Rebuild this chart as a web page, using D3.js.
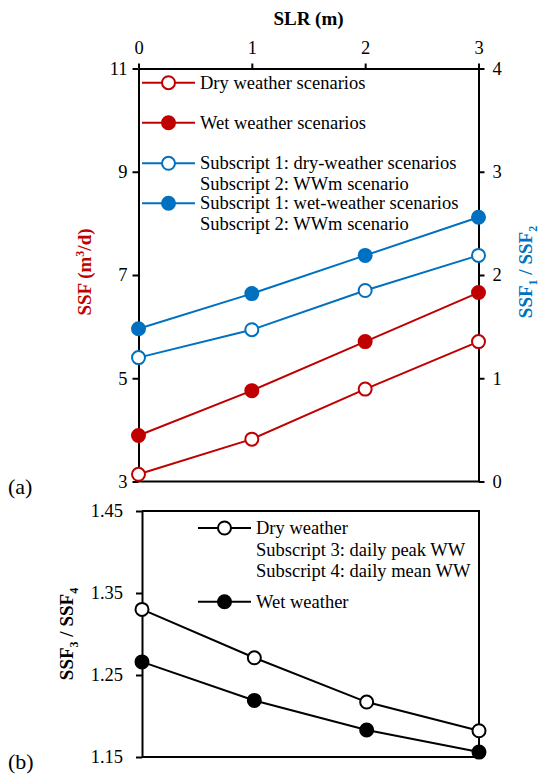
<!DOCTYPE html>
<html lang="en">
  <head>
    <meta charset="utf-8">
    <title>SSF vs SLR</title>
    <script type="text/javascript" src="https://cdn.jsdelivr.net/npm/d3@7"></script>
    <style type="text/css">
      body {
        margin: 0;
        background: #ffffff;
      }
      svg, svg text, svg tspan {
        font-family: 'Liberation Serif', 'DejaVu Serif', 'Times New Roman', Times, serif;
      }
      svg text {
        font-size: 18.5px;
        fill: #000000;
      }
      .title {
        font-weight: bold;
        font-size: 19px;
      }
      .frame {
        fill: none;
        stroke: #000000;
        stroke-width: 2;
      }
      .axis path, .axis line {
        stroke: #000000;
        stroke-width: 2;
      }
    </style>
  </head>
  <body>
    <svg id="chart" width="541" height="776"></svg>
    <script type="text/javascript">

    // data
    const slr = [0, 1, 2, 3];

    // panel (a), left axis (m3/d)
    const dryRed = [3.14, 3.82, 4.79, 5.71];
    const wetRed = [3.89, 4.76, 5.71, 6.66];
    // panel (a), right axis (ratio)
    const dryBlue = [1.20, 1.47, 1.85, 2.19];
    const wetBlue = [1.48, 1.82, 2.19, 2.56];

    // panel (b)
    const dryBlack = [1.330, 1.271, 1.217, 1.182];
    const wetBlack = [1.266, 1.219, 1.183, 1.156];

    const leftTicksA = [3, 5, 7, 9, 11];
    const rightTicksA = [0, 1, 2, 3, 4];
    const leftTicksB = [1.15, 1.25, 1.35, 1.45];

    const red = '#C00000';
    const blue = '#0070C0';
    const serif = "'Liberation Serif', 'DejaVu Serif', 'Times New Roman', Times, serif";

    const svg = d3.select('#chart');

    // layout
    const a = {left: 138.5, right: 478.5, top: 68.5, bottom: 481.5};
    const b = {left: 142, right: 479, top: 511, bottom: 757};

    const xA = d3.scaleLinear().domain([0, 3]).range([a.left, a.right]);
    const yL = d3.scaleLinear().domain([3, 11]).range([a.bottom, a.top]);
    const yR = d3.scaleLinear().domain([0, 4]).range([a.bottom, a.top]);

    const xB = d3.scaleLinear().domain([0, 3]).range([b.left, b.right]);
    const yB = d3.scaleLinear().domain([1.15, 1.45]).range([b.bottom, b.top]);

    // ---------- panel (a) ----------
    svg.append('line').attr('class', 'frame')
      .attr('x1', a.left).attr('x2', a.right)
      .attr('y1', a.bottom).attr('y2', a.bottom);

    svg.append('g')
      .attr('class', 'axis')
      .attr('transform', 'translate(0,' + a.top + ')')
      .call(d3.axisTop(xA).tickValues(slr).tickSize(5).tickSizeOuter(0).tickPadding(10).tickFormat(d3.format('d')));

    svg.append('g')
      .attr('class', 'axis')
      .attr('transform', 'translate(' + a.left + ',0)')
      .call(d3.axisLeft(yL).tickValues(leftTicksA).tickSize(6).tickSizeOuter(0).tickPadding(5).tickFormat(d3.format('d')));

    svg.append('g')
      .attr('class', 'axis')
      .attr('transform', 'translate(' + a.right + ',0)')
      .call(d3.axisRight(yR).tickValues(rightTicksA).tickSize(6).tickSizeOuter(0).tickPadding(8).tickFormat(d3.format('d')));

    svg.append('text')
      .attr('class', 'title')
      .attr('x', (a.left + a.right) / 2)
      .attr('y', 25)
      .attr('text-anchor', 'middle')
      .text('SLR (m)');

    // left title, rotated
    const lt = svg.append('text')
      .attr('class', 'title')
      .attr('transform', 'translate(91,272) rotate(-90)')
      .attr('text-anchor', 'middle')
      .style('fill', red);
    lt.append('tspan').text('SSF (m');
    lt.append('tspan').attr('dy', -7).style('font-size', '12px').text('3');
    lt.append('tspan').attr('dy', 7).text('/d)');

    // right title, rotated
    const rt = svg.append('text')
      .attr('class', 'title')
      .attr('transform', 'translate(532,272) rotate(-90)')
      .attr('text-anchor', 'middle')
      .style('fill', blue);
    rt.append('tspan').text('SSF');
    rt.append('tspan').attr('dy', 5).style('font-size', '12px').text('1');
    rt.append('tspan').attr('dy', -5).text(' / SSF');
    rt.append('tspan').attr('dy', 5).style('font-size', '12px').text('2');

    const seriesA = [
      {vals: dryRed, y: yL, color: red, open: true},
      {vals: wetRed, y: yL, color: red, open: false},
      {vals: dryBlue, y: yR, color: blue, open: true},
      {vals: wetBlue, y: yR, color: blue, open: false}
    ];

    function drawSeries(s, x) {
      const line = d3.line().x((d, i) => x(slr[i])).y(d => s.y(d));
      svg.append('path')
        .attr('d', line(s.vals))
        .attr('fill', 'none')
        .attr('stroke', s.color)
        .attr('stroke-width', 2);
      svg.append('g')
        .selectAll('circle')
        .data(s.vals)
        .enter()
        .append('circle')
        .attr('cx', (d, i) => x(slr[i]))
        .attr('cy', d => s.y(d))
        .attr('r', 6.5)
        .attr('fill', s.open ? '#ffffff' : s.color)
        .attr('stroke', s.color)
        .attr('stroke-width', 2);
    }

    seriesA.forEach(s => drawSeries(s, xA));

    // legend (a)
    const legA = [
      {color: red, open: true, y: 82.7, lines: ['Dry weather scenarios']},
      {color: red, open: false, y: 122.7, lines: ['Wet weather scenarios']},
      {color: blue, open: true, y: 163.3, lines: ['Subscript 1: dry-weather scenarios', 'Subscript 2: WWm scenario']},
      {color: blue, open: false, y: 203.3, lines: ['Subscript 1: wet-weather scenarios', 'Subscript 2: WWm scenario']}
    ];

    function legend(items, x1, x2, tx, lh, stroke) {
      items.forEach(d => {
        const c = d.color || stroke;
        svg.append('line')
          .attr('x1', x1).attr('x2', x2)
          .attr('y1', d.y).attr('y2', d.y)
          .attr('stroke', c).attr('stroke-width', 2);
        svg.append('circle')
          .attr('cx', (x1 + x2) / 2).attr('cy', d.y).attr('r', 6.5)
          .attr('fill', d.open ? '#ffffff' : c)
          .attr('stroke', c).attr('stroke-width', 2);
        d.lines.forEach((t, i) => {
          svg.append('text')
            .attr('x', tx)
            .attr('y', d.y + 6 + i * lh)
            .text(t);
        });
      });
    }

    legend(legA, 142, 195, 200, 20.7);

    svg.append('text').attr('x', 8).attr('y', 494).style('font-size', '22px').text('(a)');

    // ---------- panel (b) ----------
    svg.append('path')
      .attr('class', 'frame')
      .attr('d', 'M' + b.left + ',' + b.top + 'H' + b.right + 'V' + b.bottom + 'H' + b.left);

    svg.append('g')
      .attr('class', 'axis')
      .attr('transform', 'translate(' + b.left + ',0)')
      .call(d3.axisLeft(yB).tickValues(leftTicksB).tickSize(6).tickSizeOuter(0).tickPadding(13).tickFormat(d3.format('.2f')));

    const bt = svg.append('text')
      .attr('class', 'title')
      .attr('transform', 'translate(73,634) rotate(-90)')
      .attr('text-anchor', 'middle');
    bt.append('tspan').text('SSF');
    bt.append('tspan').attr('dy', 5).style('font-size', '12px').text('3');
    bt.append('tspan').attr('dy', -5).text(' / SSF');
    bt.append('tspan').attr('dy', 5).style('font-size', '12px').text('4');

    [{vals: dryBlack, y: yB, color: '#000000', open: true},
     {vals: wetBlack, y: yB, color: '#000000', open: false}
    ].forEach(s => drawSeries(s, xB));

    const legB = [
      {open: true, y: 528, lines: ['Dry weather', 'Subscript 3: daily peak WW', 'Subscript 4: daily mean WW']},
      {open: false, y: 601.7, lines: ['Wet weather']}
    ];
    legend(legB, 198, 251, 256, 21.5, '#000000');

    svg.append('text').attr('x', 8).attr('y', 769).style('font-size', '22px').text('(b)');

    // axis text: drop d3 defaults so the serif face applies
    svg.selectAll('.axis')
      .attr('font-family', null)
      .attr('font-size', null);
    svg.selectAll('text')
      .style('font-family', serif);

    </script>
  </body>
</html>
